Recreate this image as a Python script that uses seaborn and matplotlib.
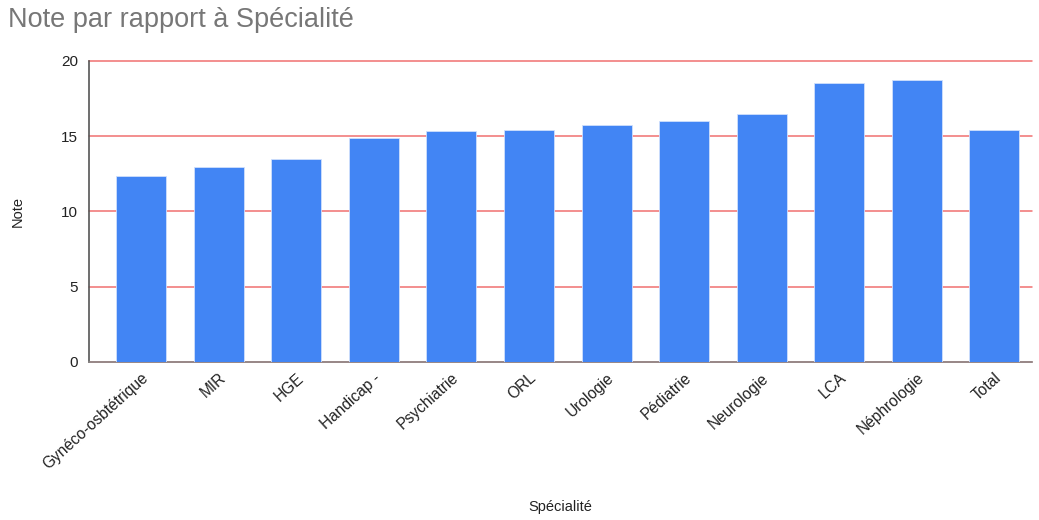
import matplotlib
matplotlib.use("Agg")
import matplotlib.pyplot as plt
import seaborn as sns
import pandas as pd

categories = ["Gynéco-osbtétrique", "MIR", "HGE", "Handicap -", "Psychiatrie", "ORL",
              "Urologie", "Pédiatrie", "Neurologie", "LCA", "Néphrologie", "Total"]
notes = [12.35, 12.95, 13.5, 14.88, 15.32, 15.4, 15.74, 16.0, 16.45, 18.5, 18.7, 15.4]

df = pd.DataFrame({"Spécialité": categories, "Note": notes})

sns.set_style("white")
plt.rcParams["font.family"] = ["Liberation Sans", "DejaVu Sans"]

fig = plt.figure(figsize=(10.39, 5.2), dpi=100)
ax = fig.add_axes([0.0857, 0.304, 0.908, 0.579])

sns.barplot(data=df, x="Spécialité", y="Note", color="#4285f4", saturation=1,
            width=0.645, ax=ax, zorder=3, edgecolor="#cfe0fc", linewidth=0.6)

ax.set_ylim(0, 20)
ax.set_yticks([0, 5, 10, 15, 20])
ax.set_xlim(-0.67, 11.49)
ax.yaxis.grid(True, color="#f07070", linewidth=1.1, zorder=0)
for gl in ax.yaxis.get_gridlines():
    gl.set_clip_on(False)
ax.xaxis.grid(False)
for s in ["top", "right"]:
    ax.spines[s].set_visible(False)
ax.spines["left"].set_color("#555555")
ax.spines["left"].set_linewidth(1.2)
ax.spines["bottom"].set_color("#888888")
ax.spines["bottom"].set_linewidth(1.2)
ax.tick_params(axis="y", labelsize=11, colors="#222222", length=0, pad=8)
ax.tick_params(axis="x", labelsize=11.2, colors="#222222", length=0, pad=6)
plt.setp(ax.get_xticklabels(), rotation=42, ha="right", rotation_mode="anchor")

ax.set_xlabel("Spécialité", fontsize=10.5, color="#222222", labelpad=20)
ax.set_ylabel("Note", fontsize=10.5, color="#222222", labelpad=26)

fig.text(0.008, 0.962, "Note par rapport à Spécialité", fontsize=19.5, color="#777777",
         ha="left", va="center")

fig.savefig("out.png", dpi=100, facecolor="white")
